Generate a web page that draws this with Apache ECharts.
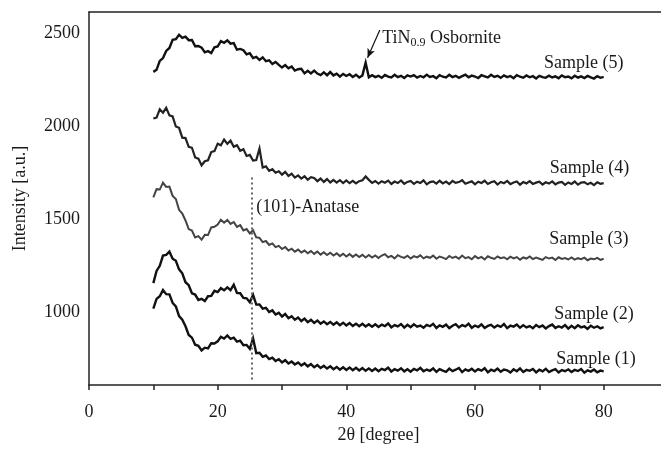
<!DOCTYPE html>
<html>
<head>
<meta charset="utf-8">
<script src="https://cdn.jsdelivr.net/npm/echarts@6/dist/echarts.min.js"></script>
<style>
html,body{margin:0;padding:0;background:#fff;}
#c{width:661px;height:449px;}
</style>
</head>
<body>
<div id="c"></div>
<script>
// 2θ sampling grid: 10° to 80° in 0.5° steps (141 points)
const twoTheta = [];
for (let i = 0; i <= 140; i++) twoTheta.push(10 + i * 0.5);

const xTicks = [0, 20, 40, 60, 80];
const yTicks = [1000, 1500, 2000, 2500];
const sampleNames = ['Sample (1)', 'Sample (2)', 'Sample (3)', 'Sample (4)', 'Sample (5)'];

const sample5 = [
  2291,2302,2350,2365,2403,2419,2463,2466,2490,2473,
  2480,2461,2462,2428,2430,2421,2396,2402,2392,2423,
  2427,2456,2447,2460,2442,2445,2410,2414,2407,2385,
  2391,2365,2371,2355,2369,2348,2353,2333,2344,2328,
  2314,2327,2310,2320,2298,2305,2307,2283,2297,2283,
  2298,2282,2274,2289,2273,2290,2272,2281,2265,2280,
  2269,2278,2264,2276,2261,2272,2340,2262,2273,2263,
  2270,2259,2274,2266,2261,2275,2263,2270,2258,2272,
  2266,2274,2260,2269,2262,2276,2264,2268,2257,2273,
  2265,2261,2275,2263,2270,2259,2268,2276,2262,2271,
  2266,2258,2273,2267,2261,2275,2264,2270,2259,2272,
  2263,2269,2257,2273,2265,2260,2272,2262,2268,2256,
  2270,2263,2259,2271,2261,2267,2257,2272,2262,2266,
  2256,2270,2260,2267,2258,2269,2261,2255,2268,2259,
  2264
];
const sample4 = [
  2041,2046,2090,2072,2098,2058,2052,1998,1991,1938,
  1936,1889,1884,1832,1826,1790,1812,1817,1861,1866,
  1906,1897,1928,1905,1922,1889,1898,1868,1876,1840,
  1846,1815,1818,1880,1778,1784,1760,1769,1750,1758,
  1740,1755,1733,1745,1724,1736,1719,1731,1712,1726,
  1722,1705,1719,1701,1716,1698,1712,1697,1710,1695,
  1709,1694,1707,1693,1705,1710,1730,1712,1696,1706,
  1692,1705,1697,1708,1690,1703,1695,1709,1691,1701,
  1706,1690,1702,1695,1709,1688,1700,1704,1692,1707,
  1693,1703,1689,1706,1696,1700,1710,1691,1698,1704,
  1688,1702,1695,1707,1690,1699,1705,1687,1701,1694,
  1706,1689,1698,1703,1686,1700,1693,1705,1690,1697,
  1702,1687,1699,1692,1704,1688,1697,1701,1685,1698,
  1690,1703,1686,1697,1700,1688,1696,1684,1699,1691,
  1694
];
const sample3 = [
  1618,1662,1660,1697,1674,1676,1626,1609,1551,1531,
  1494,1448,1440,1403,1410,1391,1417,1416,1457,1460,
  1472,1498,1482,1497,1476,1486,1460,1469,1441,1448,
  1425,1442,1404,1401,1378,1384,1363,1371,1351,1358,
  1341,1352,1333,1343,1327,1338,1322,1333,1318,1330,
  1315,1328,1311,1324,1309,1321,1306,1318,1303,1316,
  1301,1314,1299,1312,1298,1310,1296,1309,1295,1307,
  1293,1306,1314,1297,1304,1291,1308,1299,1294,1305,
  1290,1303,1296,1307,1291,1300,1294,1306,1289,1301,
  1295,1287,1304,1293,1300,1289,1306,1292,1298,1286,
  1303,1291,1299,1285,1302,1294,1288,1301,1292,1297,
  1286,1300,1291,1298,1284,1296,1290,1301,1287,1295,
  1289,1283,1298,1290,1295,1282,1297,1288,1293,1285,
  1296,1284,1292,1287,1295,1281,1290,1286,1294,1283,
  1289
];
const sample2 = [
  1158,1224,1251,1306,1310,1327,1289,1278,1232,1211,
  1163,1147,1104,1097,1068,1074,1062,1088,1090,1117,
  1110,1131,1120,1136,1121,1150,1106,1104,1079,1077,
  1056,1095,1043,1044,1021,1026,1003,1012,990,999,
  979,993,970,981,962,974,955,968,949,961,
  945,958,941,953,938,950,935,948,933,946,
  931,944,929,941,927,940,926,938,924,937,
  923,936,928,942,921,933,926,939,920,935,
  922,937,925,931,919,934,927,940,918,932,
  924,936,917,930,938,921,933,926,941,919,
  931,923,937,918,929,935,920,932,924,939,
  917,930,925,936,919,933,921,928,916,934,
  922,931,915,928,936,918,927,920,933,914,
  929,917,932,921,926,913,930,919,927,916,
  922
];
const sample1 = [
  1022,1074,1088,1121,1099,1098,1052,1033,981,962,
  927,880,866,828,822,797,812,808,836,835,
  846,870,861,878,859,866,845,850,825,827,
  806,862,783,785,763,770,751,759,741,750,
  733,745,727,738,722,733,717,728,712,724,
  707,719,703,715,700,712,697,709,694,707,
  693,706,691,704,690,703,688,701,687,700,
  686,699,692,705,684,697,689,702,685,696,
  683,698,690,704,686,695,688,701,682,697,
  689,683,700,686,694,703,681,696,688,699,
  684,697,689,702,680,694,687,700,683,695,
  691,679,696,686,701,682,693,688,698,680,
  694,685,699,681,690,697,679,692,686,696,
  682,693,687,698,678,691,684,695,680,689,
  685
];

// annotation anchors (data coordinates)
const sampleLabelPos = [[78.8, 748], [78.5, 989], [77.7, 1391], [77.8, 1776], [76.9, 2338]];
const anatasePos = 25.3;
const anataseLine = [1724, 640];
const anataseTextPos = [34.0, 1567];
const osborniteTextPos = [45.5, 2472];
const osborniteArrow = [[45.2, 2515], [43.3, 2367]];

const FONT = '"Liberation Serif", "Times New Roman", serif';
const allSamples = [sample1, sample2, sample3, sample4, sample5];
const colors = ['#111', '#111', '#444', '#222', '#111'];
const widths = [2.4, 2.4, 2.0, 2.2, 2.4];

const series = allSamples.map((arr, k) => ({
  type: 'line',
  name: sampleNames[k],
  data: twoTheta.map((x, i) => [x, arr[i]]),
  showSymbol: false,
  symbol: 'none',
  lineStyle: { color: colors[k], width: widths[k], join: 'miter' },
  z: 3,
  silent: true,
  markPoint: {
    symbol: 'circle', symbolSize: 1,
    itemStyle: { color: 'rgba(0,0,0,0)' },
    label: { show: true, position: 'inside', formatter: '{b}',
             fontFamily: FONT, fontSize: 18, color: '#1a1a1a' },
    data: [{ name: sampleNames[k], coord: sampleLabelPos[k] }]
  }
}));

// Anatase annotation on sample 1
series[0].markLine = {
  silent: true, symbol: ['none', 'none'],
  lineStyle: { color: '#666', type: [2, 3], width: 2 },
  label: { show: false },
  data: [[{ coord: [anatasePos, anataseLine[0]] }, { coord: [anatasePos, anataseLine[1]] }]]
};
series[0].markPoint.data.push({ name: '(101)-Anatase', coord: anataseTextPos });

// Osbornite annotation on sample 5
series[4].markLine = {
  silent: true, symbol: ['none', 'arrow'], symbolSize: [6, 9],
  lineStyle: { color: '#111', type: 'solid', width: 1.2 },
  label: { show: false },
  data: [[{ coord: osborniteArrow[0] }, { coord: osborniteArrow[1] }]]
};
series[4].markPoint.data.push({
  name: 'osb', coord: osborniteTextPos,
  label: {
    show: true, position: 'right', distance: 0,
    formatter: 'TiN{sub|0.9} Osbornite',
    fontFamily: FONT, fontSize: 18, color: '#1a1a1a',
    rich: { sub: { fontFamily: FONT, fontSize: 12, padding: [10, 0, 0, 0], color: '#1a1a1a' } }
  }
});

const chart = echarts.init(document.getElementById('c'), null, { renderer: 'canvas' });
chart.setOption({
  animation: false,
  backgroundColor: '#fff',
  grid: { left: 89, top: 12, width: 579, height: 373, containLabel: false, outerBoundsMode: 'none' },
  xAxis: [{
    type: 'value', min: 0, max: 90, interval: 10,
    name: '2θ [degree]', nameLocation: 'middle', nameGap: 40,
    nameTextStyle: { fontFamily: FONT, fontSize: 18, color: '#1a1a1a' },
    axisLine: { show: true, onZero: false, lineStyle: { color: '#222', width: 1.5 } },
    axisTick: { show: true, inside: false, length: 5, lineStyle: { color: '#222', width: 1.5 } },
    axisLabel: { margin: 18, fontFamily: FONT, fontSize: 18, color: '#1a1a1a',
      formatter: v => (xTicks.indexOf(v) >= 0 ? String(v) : '') },
    splitLine: { show: false }
  }, {
    type: 'value', position: 'top', min: 0, max: 90,
    axisLine: { show: true, onZero: false, lineStyle: { color: '#222', width: 1.5 } },
    axisTick: { show: false }, axisLabel: { show: false }, splitLine: { show: false }
  }],
  yAxis: {
    type: 'value', min: 612, max: 2612,
    name: 'Intensity [a.u.]', nameLocation: 'middle', nameGap: 60,
    nameTextStyle: { fontFamily: FONT, fontSize: 18, color: '#1a1a1a' },
    axisLine: { show: true, onZero: false, lineStyle: { color: '#222', width: 1.5 } },
    axisTick: { show: false },
    axisLabel: { margin: 9, fontFamily: FONT, fontSize: 18, color: '#1a1a1a',
      showMinLabel: false, showMaxLabel: false,
      formatter: v => (yTicks.indexOf(v) >= 0 ? String(v) : '') },
    splitLine: { show: false }
  },
  series: series
});
</script>
</body>
</html>
